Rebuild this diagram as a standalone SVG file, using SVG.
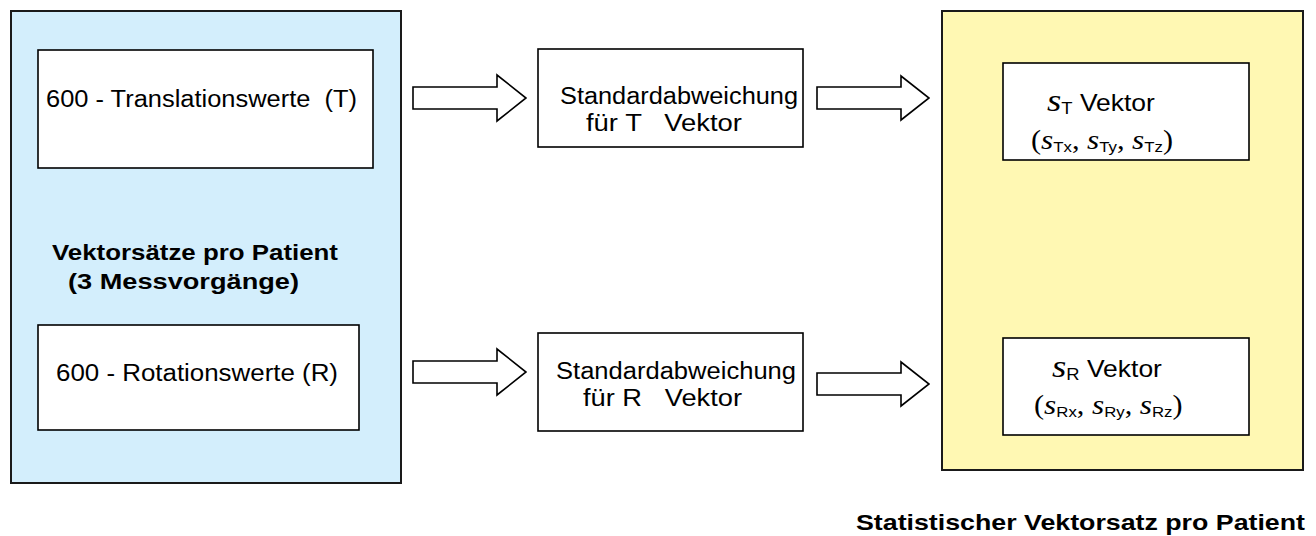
<svg xmlns="http://www.w3.org/2000/svg" width="1316" height="536" viewBox="0 0 1316 536">
  <style>
    .panel { stroke: #1a1a1a; stroke-width: 2; }
    .box { fill: #ffffff; stroke: #000000; stroke-width: 1.6; }
    .arrow { fill: #ffffff; stroke: #000000; stroke-width: 1.6; stroke-linejoin: miter; }
    .t { font-family: "Liberation Sans", Arial, sans-serif; font-size: 23px; fill: #000000; }
    .b { font-family: "Liberation Sans", Arial, sans-serif; font-size: 22.5px; font-weight: bold; fill: #000000; }
    .m { font-family: "Liberation Serif", "Times New Roman", serif; font-style: italic; fill: #000000; }
    .p { font-family: "Liberation Serif", "Times New Roman", serif; fill: #000000; }
    .sub { font-family: "Liberation Sans", Arial, sans-serif; fill: #000000; }
  </style>
  <rect width="1316" height="536" fill="#ffffff"/>

  <!-- left panel: measured vector sets -->
  <g id="panel-input">
    <rect class="panel" x="11" y="11" width="390" height="472" fill="#d3eefc"/>
    <text class="b" x="52" y="260" textLength="286" lengthAdjust="spacingAndGlyphs">Vektorsätze pro Patient</text>
    <text class="b" x="68" y="289" textLength="231" lengthAdjust="spacingAndGlyphs">(3 Messvorgänge)</text>
  </g>
  <g id="node-translation">
    <rect class="box" x="38" y="50" width="335" height="118"/>
    <text class="t" x="46" y="107" xml:space="preserve" textLength="311" lengthAdjust="spacingAndGlyphs">600 - Translationswerte  (T)</text>
  </g>
  <g id="node-rotation">
    <rect class="box" x="38" y="325" width="321" height="105"/>
    <text class="t" x="56" y="381" textLength="282" lengthAdjust="spacingAndGlyphs">600 - Rotationswerte (R)</text>
  </g>

  <!-- standard deviation steps -->
  <g id="node-std-t">
    <rect class="box" x="538" y="49" width="265" height="98"/>
    <text class="t" x="560" y="104" textLength="238" lengthAdjust="spacingAndGlyphs">Standardabweichung</text>
    <text class="t" x="586" y="131" xml:space="preserve" textLength="156" lengthAdjust="spacingAndGlyphs">für T   Vektor</text>
  </g>
  <g id="node-std-r">
    <rect class="box" x="538" y="333" width="265" height="98"/>
    <text class="t" x="556" y="379" textLength="240" lengthAdjust="spacingAndGlyphs">Standardabweichung</text>
    <text class="t" x="583" y="406" xml:space="preserve" textLength="159" lengthAdjust="spacingAndGlyphs">für R   Vektor</text>
  </g>

  <!-- right panel: statistical vector set -->
  <g id="panel-output">
    <rect class="panel" x="942" y="11" width="361" height="459" fill="#fff8b3"/>
  </g>
  <g id="node-s-t">
    <rect class="box" x="1003" y="63" width="246" height="97"/>
    <g transform="translate(1047,111) scale(1.15,1)">
      <text><tspan class="m" font-size="32">s</tspan><tspan class="sub" font-size="16" dy="3">T</tspan><tspan class="t" dy="-3" font-size="23.5"> Vektor</tspan></text>
    </g>
    <g transform="translate(1031,149) scale(1.12,1)">
      <text><tspan class="p" font-size="27">(</tspan><tspan class="m" font-size="28">s</tspan><tspan class="sub" font-size="15" dy="3">Tx</tspan><tspan class="p" font-size="27" dy="-3">, </tspan><tspan class="m" font-size="28">s</tspan><tspan class="sub" font-size="15" dy="3">Ty</tspan><tspan class="p" font-size="27" dy="-3">, </tspan><tspan class="m" font-size="28">s</tspan><tspan class="sub" font-size="15" dy="3">Tz</tspan><tspan class="p" font-size="27" dy="-3">)</tspan></text>
    </g>
  </g>
  <g id="node-s-r">
    <rect class="box" x="1003" y="338" width="246" height="97"/>
    <g transform="translate(1052,377) scale(1.15,1)">
      <text><tspan class="m" font-size="32">s</tspan><tspan class="sub" font-size="16" dy="3">R</tspan><tspan class="t" dy="-3" font-size="23.5"> Vektor</tspan></text>
    </g>
    <g transform="translate(1034,414) scale(1.12,1)">
      <text><tspan class="p" font-size="27">(</tspan><tspan class="m" font-size="28">s</tspan><tspan class="sub" font-size="15" dy="3">Rx</tspan><tspan class="p" font-size="27" dy="-3">, </tspan><tspan class="m" font-size="28">s</tspan><tspan class="sub" font-size="15" dy="3">Ry</tspan><tspan class="p" font-size="27" dy="-3">, </tspan><tspan class="m" font-size="28">s</tspan><tspan class="sub" font-size="15" dy="3">Rz</tspan><tspan class="p" font-size="27" dy="-3">)</tspan></text>
    </g>
  </g>
  <g id="label-output">
    <text class="b" x="856" y="530" textLength="449" lengthAdjust="spacingAndGlyphs" font-size="23.5">Statistischer Vektorsatz pro Patient</text>
  </g>

  <!-- block arrows between the stages -->
  <g id="connectors">
    <polygon class="arrow" points="413,87 497,87 497,75 526,98 497,121 497,109 413,109"/>
    <polygon class="arrow" points="817,87 901,87 901,76 929,98 901,120 901,109 817,109"/>
    <polygon class="arrow" points="413,361 497,361 497,349 526,372 497,395 497,383 413,383"/>
    <polygon class="arrow" points="817,373 901,373 901,362 929,384 901,406 901,395 817,395"/>
  </g>
</svg>
